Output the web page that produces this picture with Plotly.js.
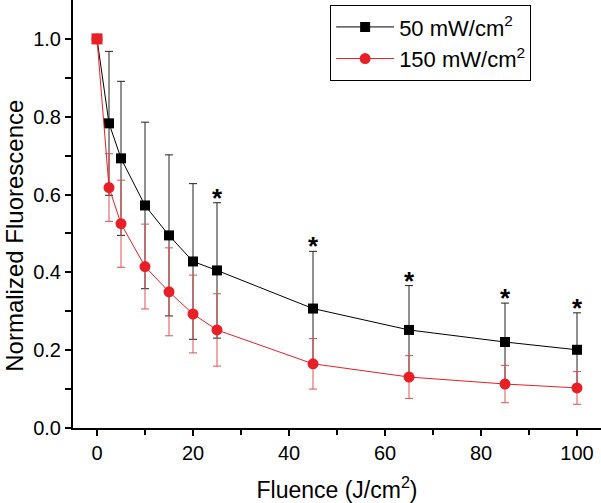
<!DOCTYPE html>
<html>
<head>
<meta charset="utf-8">
<script src="https://cdn.plot.ly/plotly-3.0.1.min.js"></script>
<style>html,body{margin:0;padding:0;background:#fff;}#chart{width:601px;height:503px;}</style>
</head>
<body>
<div id="chart"></div>
<script>
var fluence = [0, 2.5, 5, 10, 15, 20, 25, 45, 65, 85, 100];
var low50 = [1.0, 0.783, 0.693, 0.572, 0.495, 0.428, 0.405, 0.307, 0.252, 0.221, 0.201];
var low50Err = [0, 0.185, 0.198, 0.214, 0.207, 0.2, 0.174, 0.147, 0.114, 0.1, 0.095];
var high150 = [1.0, 0.618, 0.525, 0.415, 0.350, 0.293, 0.252, 0.165, 0.131, 0.113, 0.103];
var high150Err = [0, 0.087, 0.112, 0.109, 0.113, 0.1, 0.093, 0.065, 0.055, 0.048, 0.042];
var starX = [25, 45, 65, 85, 100];
var seriesNames = ['50 mW/cm<sup>2</sup>', '150 mW/cm<sup>2</sup>'];
var xTitle = 'Fluence (J/cm<sup>2</sup>)';
var yTitle = 'Normalized Fluorescence';

var red = 'rgb(232,32,38)';
var redErr = 'rgb(226,80,80)';
var FAM = 'Liberation Sans, Arial, sans-serif';

var traces = [
  {
    x: fluence, y: low50, name: seriesNames[0], type: 'scatter', mode: 'lines+markers',
    line: {color: '#000', width: 1},
    marker: {symbol: 'square', size: 10, color: '#000'},
    error_y: {type: 'data', array: low50Err, visible: true, color: '#222', thickness: 1, width: 4}
  },
  {
    x: fluence, y: high150, name: seriesNames[1], type: 'scatter', mode: 'lines+markers',
    line: {color: red, width: 1},
    marker: {symbol: 'circle', size: 11, color: red},
    error_y: {type: 'data', array: high150Err, visible: true, color: redErr, thickness: 1, width: 4}
  },
  {
    x: [fluence[0]], y: [high150[0]], type: 'scatter', mode: 'markers', showlegend: false,
    marker: {symbol: 'square', size: 11, color: red}
  }
];

var annotations = starX.map(function(xv){
  var i = fluence.indexOf(xv);
  return {
    x: xv, y: low50[i] + low50Err[i], xref: 'x', yref: 'y',
    text: '<b>*</b>', showarrow: false, yanchor: 'bottom', yshift: -12,
    font: {family: FAM, size: 26, color: '#000'}
  };
});
annotations.push({
  x: -0.11, y: 0.449, xref: 'paper', yref: 'paper', xanchor: 'center', yanchor: 'middle',
  text: yTitle, textangle: -90, showarrow: false,
  font: {family: FAM, size: 24, color: '#000'}
});

var layout = {
  width: 601, height: 503,
  margin: {l: 73, r: 0, t: 0, b: 75},
  paper_bgcolor: '#fff', plot_bgcolor: '#fff',
  font: {family: FAM, color: '#000'},
  showlegend: true,
  legend: {
    x: 0.487, y: 0.988, xanchor: 'left', yanchor: 'top',
    bordercolor: '#000', borderwidth: 1, bgcolor: '#fff',
    font: {family: FAM, size: 22, color: '#000'},
    itemwidth: 58,
    tracegroupgap: 0
  },
  xaxis: {
    range: [-5, 105], tickvals: [0, 20, 40, 60, 80, 100],
    ticks: 'outside', ticklen: 6, tickwidth: 2, tickcolor: '#000',
    showline: true, linecolor: '#000', linewidth: 2, mirror: false,
    showgrid: false, zeroline: false,
    minor: {tickvals: [10, 30, 50, 70, 90], ticks: 'outside', ticklen: 5, tickwidth: 2, tickcolor: '#000'},
    tickfont: {size: 20, family: FAM, color: '#000'},
    title: {text: xTitle, font: {size: 23, family: FAM, color: '#000'}, standoff: 21}
  },
  yaxis: {
    range: [0, 1.1], tickvals: [0, 0.2, 0.4, 0.6, 0.8, 1.0], ticktext: ['0.0','0.2','0.4','0.6','0.8','1.0'],
    ticks: 'outside', ticklen: 6, tickwidth: 2, tickcolor: '#000',
    showline: true, linecolor: '#000', linewidth: 2,
    showgrid: false, zeroline: false,
    minor: {tickvals: [0.1, 0.3, 0.5, 0.7, 0.9], ticks: 'outside', ticklen: 6, tickwidth: 2, tickcolor: '#000'},
    tickfont: {size: 20, family: FAM, color: '#000'}
  },
  annotations: annotations
};

Plotly.newPlot('chart', traces, layout, {displayModeBar: false, staticPlot: true});
</script>
</body>
</html>
